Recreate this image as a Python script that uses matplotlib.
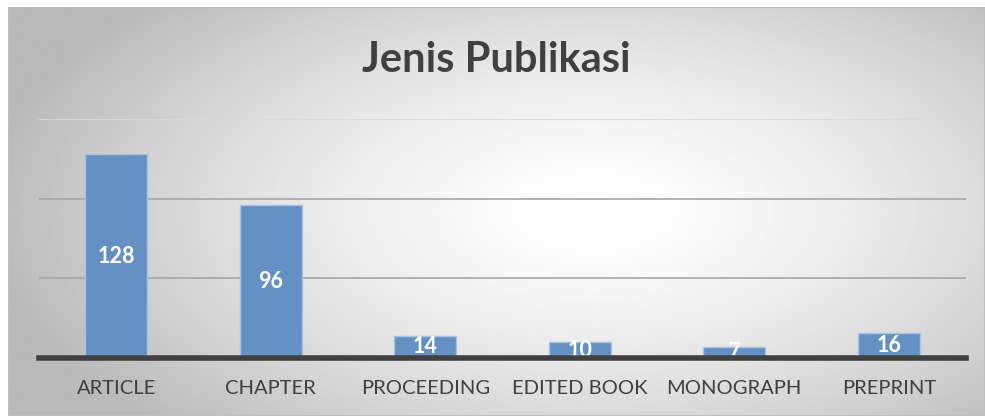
import numpy as np
import matplotlib.pyplot as plt
from matplotlib.patches import Rectangle

# Data
kategori = ['ARTICLE', 'CHAPTER', 'PROCEEDING', 'EDITED BOOK', 'MONOGRAPH', 'PREPRINT']
jumlah = [128, 96, 14, 10, 7, 16]
judul = 'Jenis Publikasi'

plt.rcParams['font.family'] = ['Lato', 'DejaVu Sans']

W, H = 985, 416
fig = plt.figure(figsize=(W / 100, H / 100), dpi=100)
fig.patch.set_facecolor('white')

# background with radial gradient (white centre, grey edges)
bg = fig.add_axes([8 / W, 0, (W - 8) / W, (H - 7) / H])
nx, ny = 400, 170
xx, yy = np.meshgrid(np.linspace(0, 1, nx), np.linspace(0, 1, ny))
r = np.sqrt(((xx - 0.6) / 0.62) ** 2 + ((yy - 0.5) / 0.75) ** 2)
val = 1.0 - 0.27 * np.clip(r, 0, 1) ** 1.5
bg.imshow(val, cmap='gray', vmin=0, vmax=1, aspect='auto', extent=[0, 1, 0, 1], origin='upper')
bg.add_patch(Rectangle((0, 0), 1, 1, transform=bg.transAxes, fill=False,
                       edgecolor='#bfbfbf', lw=1.5))
bg.set_axis_off()

# plot area
ax = fig.add_axes([39 / W, (H - 358) / H, 927 / W, (358 - 119) / H])
ax.set_facecolor('none')
x = np.arange(len(kategori))
bars = ax.bar(x, jumlah, width=0.4, color='#6490c4', edgecolor='#a9c3e3', linewidth=1, zorder=2)
for b, v in zip(bars, jumlah):
    ax.text(b.get_x() + b.get_width() / 2, v / 2, str(v), ha='center', va='center',
            color='white', fontsize=15.5, fontweight='bold', zorder=3)

ax.set_xlim(-0.5, len(kategori) - 0.5)
ax.set_ylim(0, 150)
ax.set_yticks([50, 100])
ax.yaxis.grid(True, color='#a6a6a6', lw=1.2, zorder=0)
ax.axhline(150, color='#d9d9d9', lw=1.2, zorder=0)
ax.axhline(0, color='#404040', lw=4, zorder=4, clip_on=False)
ax.tick_params(axis='y', length=0, labelleft=False)
ax.tick_params(axis='x', length=0, pad=16, labelsize=14.5, labelcolor='#404040')
ax.set_xticks(x)
ax.set_xticklabels(kategori)
for s in ax.spines.values():
    s.set_visible(False)

fig.text(0.5 + 4 / W, (H - 60) / H, judul, ha='center', va='center',
         fontsize=30, fontweight='bold', color='#404040')

fig.savefig('out.png', dpi=100)
